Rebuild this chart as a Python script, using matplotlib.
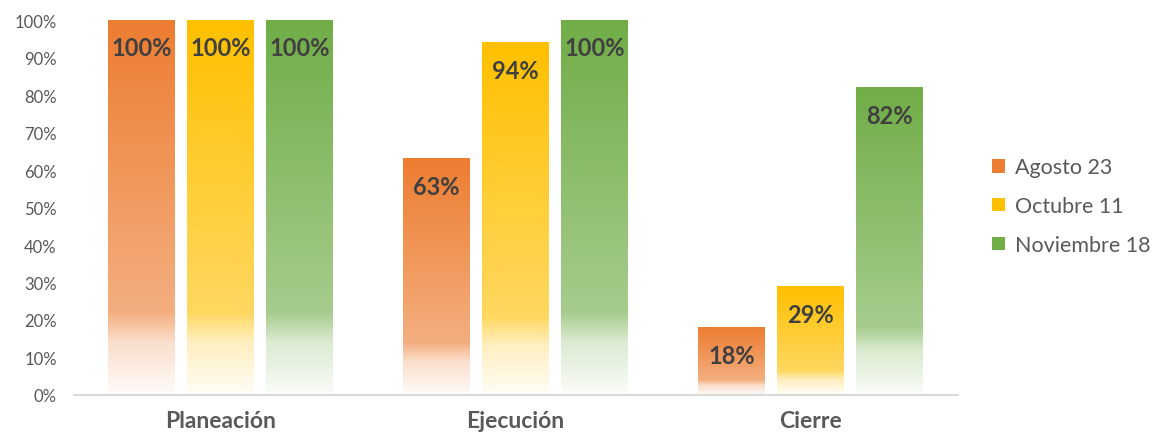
import numpy as np
import matplotlib
matplotlib.use("Agg")
import matplotlib.pyplot as plt
from matplotlib.patches import Patch
from matplotlib.colors import to_rgb

categories = ["Planeación", "Ejecución", "Cierre"]
series_names = ["Agosto 23", "Octubre 11", "Noviembre 18"]
agosto = [1.00, 0.63, 0.18]
octubre = [1.00, 0.94, 0.29]
noviembre = [1.00, 1.00, 0.82]
colors = ["#ED7D31", "#FFC000", "#70AD47"]
yticks = [0, 0.1, 0.2, 0.3, 0.4, 0.5, 0.6, 0.7, 0.8, 0.9, 1.0]

plt.rcParams['font.family'] = ['Lato', 'DejaVu Sans']

fig = plt.figure(figsize=(11.58, 4.39), dpi=100)
ax = fig.add_axes([0.0635, 0.098, 0.7635, 0.854])

x = np.arange(len(categories))
width = 0.227
step = 0.268
all_series = [agosto, octubre, noviembre]

# gradient profile: mix with white vs fraction from top
tp = [0.0, 0.78, 0.86, 1.0]
mp = [0.0, 0.38, 0.75, 0.97]
N = 256
t = np.linspace(0, 1, N)
mix = np.interp(t, tp, mp)

for i, (vals, col) in enumerate(zip(all_series, colors)):
    rgb = np.array(to_rgb(col))
    grad = rgb[None, :] * (1 - mix[:, None]) + mix[:, None]
    img = np.repeat(grad[:, None, :], 2, axis=1)
    bars = ax.bar(x + (i - 1) * step, vals, width, color='none', edgecolor='none')
    for r, v in zip(bars, vals):
        x0 = r.get_x()
        ax.imshow(img, extent=[x0, x0 + r.get_width(), 0, r.get_height()],
                  aspect='auto', origin='upper', zorder=2, interpolation='bilinear')
        ax.annotate(f"{v*100:.0f}%", (x0 + r.get_width() / 2, v),
                    xytext=(0, -20), textcoords='offset points',
                    ha='center', va='center', fontsize=17, fontweight='bold',
                    color='#404040', zorder=5)

ax.set_xlim(-0.5, 2.5)
ax.set_ylim(0, 1.0)
ax.set_yticks(yticks)
ax.set_yticklabels([f"{v*100:.0f}%" for v in yticks], color='#595959', fontsize=12)
ax.set_xticks(x)
ax.set_xticklabels(categories, fontsize=16.5, fontweight='bold', color='#595959')
ax.tick_params(axis='both', length=0)
ax.tick_params(axis='y', pad=12)
ax.tick_params(axis='x', pad=11)
for s in ['top', 'right', 'left']:
    ax.spines[s].set_visible(False)
ax.spines['bottom'].set_color('#D9D9D9')
ax.spines['bottom'].set_linewidth(1.5)
ax.spines['bottom'].set_zorder(6)

handles = [Patch(facecolor=c, edgecolor='none') for c in colors]
leg = fig.legend(handles, series_names, loc='center left', bbox_to_anchor=(0.857, 0.528),
                 frameon=False, fontsize=15.5, handlelength=0.6, handleheight=0.6,
                 handletextpad=0.45, labelspacing=0.88, labelcolor='#595959',
                 borderaxespad=0, borderpad=0)

fig.savefig("out.png", dpi=100)
